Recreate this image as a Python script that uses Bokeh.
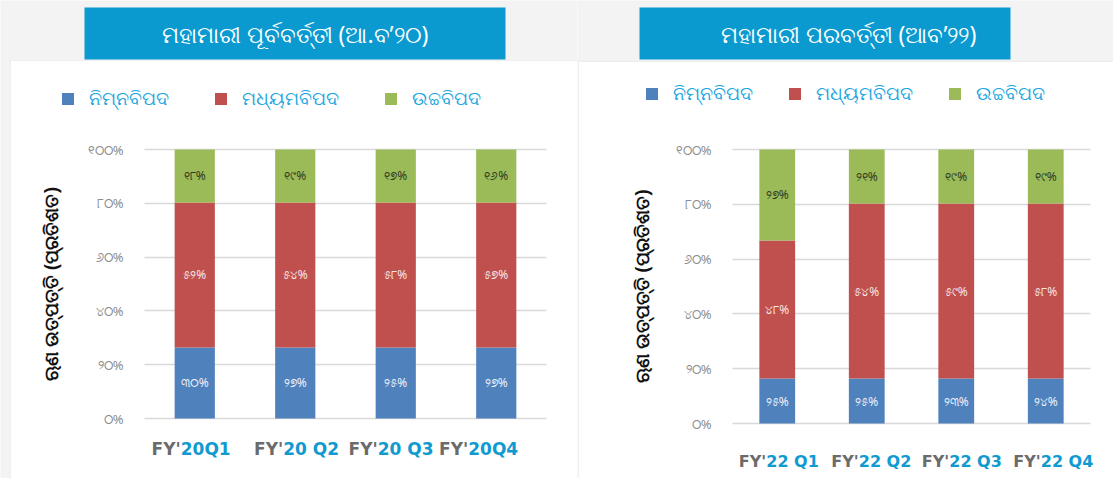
from bokeh.plotting import figure
from bokeh.models import (Range1d, FixedTicker, Label, Legend, LegendItem,
                          ColumnDataSource, LinearAxis, Grid, BoxAnnotation)
from bokeh.layouts import row
from bokeh.embed import file_html
from bokeh.resources import INLINE
from bokeh.core.properties import value

# ---------------- data ----------------
titles = ["ମହାମାରୀ ପୂର୍ବବର୍ତ୍ତୀ (ଆ.ବ’୨୦)", "ମହାମାରୀ ପରବର୍ତ୍ତୀ (ଆବ’୨୨)"]
series_names = ["ନିମ୍ନବିପଦ", "ମଧ୍ୟମବିପଦ", "ଉଚ୍ଚବିପଦ"]
y_title = "ଋଣ ଉତ୍ପତ୍ତି (ପ୍ରତିଶତ)"
y_ticks = [0, 20, 40, 60, 80, 100]

pre_quarters = ["FY'20Q1", "FY'20 Q2", "FY'20 Q3", "FY'20Q4"]
post_quarters = ["FY'22 Q1", "FY'22 Q2", "FY'22 Q3", "FY'22 Q4"]

# bar heights as drawn (percent of the stacked column)
pre_low = [26.4, 26.4, 26.4, 26.4]
pre_mid = [53.9, 53.9, 53.9, 53.9]
pre_high = [19.7, 19.7, 19.7, 19.7]
post_low = [16.4, 16.4, 16.4, 16.4]
post_mid = [50.4, 63.9, 63.9, 63.9]
post_high = [33.2, 19.7, 19.7, 19.7]

# printed data labels (percent)
pre_low_lbl = [30, 27, 25, 27]
pre_mid_lbl = [52, 54, 58, 57]
pre_high_lbl = [18, 19, 17, 16]
post_low_lbl = [25, 25, 23, 24]
post_mid_lbl = [48, 54, 59, 58]
post_high_lbl = [27, 21, 19, 19]

# ---------------- style ----------------
COLORS = ["#4F81BD", "#C0504D", "#9BBB59"]
LBL_COLORS = ["#eef2fa", "#f6e6e6", "#2f3a22"]
TITLE_BG = "#0A9ACF"
PAGE_BG = "#f3f3f3"
LEGEND_TXT = "#1BA6E0"
ODIA_FONT = "Noto Sans"
ODIA_DIGITS = "୦୧୨୩୪୫୬୭୮୯"
H = 478


def odia_num(n):
    return "".join(ODIA_DIGITS[int(c)] for c in str(n))


def panel(quarters, heights, labels, title, g):
    """g: layout geometry in this panel's pixel space."""
    n = len(quarters)
    W = g["width"]
    unit = (g["frame_r"] - g["frame_l"]) / n          # px per category
    k = (g["y0"] - g["y100"]) / 100.0                  # px per percent
    xr = Range1d(-g["frame_l"] / unit, (W - g["frame_l"]) / unit)
    yr = Range1d(-(H - g["y0"]) / k, 100 + g["y100"] / k)

    def X(px):
        return xr.start + px / unit

    def Y(py):
        return yr.end - py / k

    p = figure(width=W, height=H, x_range=xr, y_range=yr, x_axis_type=None,
               y_axis_type=None, toolbar_location=None, output_backend="svg",
               min_border=0, min_border_left=0, min_border_right=0,
               min_border_top=0, min_border_bottom=0, outline_line_color=None,
               background_fill_color=PAGE_BG, border_fill_color=PAGE_BG)

    # white panel card and blue title banner
    bx = g["card"]
    p.add_layout(BoxAnnotation(left=X(bx[0]), right=X(bx[1]), top=Y(bx[2]), bottom=Y(bx[3]),
                               fill_color="white", fill_alpha=1, line_color="#d4d4d4",
                               line_width=1, level="image", editable=False))
    tb = g["banner"]
    p.add_layout(BoxAnnotation(left=X(tb[0]), right=X(tb[1]), top=Y(tb[2]), bottom=Y(tb[3]),
                               fill_color=TITLE_BG, fill_alpha=1, line_color=None,
                               level="image", editable=False))
    p.add_layout(Label(x=X(g["title_x"]), y=Y((tb[2] + tb[3]) / 2), text=title,
                       text_align="center", text_baseline="middle", text_color="white",
                       text_font=ODIA_FONT, text_font_size="23px"))

    # gridlines
    grid = Grid(dimension=1, ticker=FixedTicker(ticks=y_ticks), grid_line_color="#d9d9d9",
                grid_line_width=1.5)
    if "cross_bounds" in Grid.properties():
        grid.cross_bounds = (0, n)
        p.add_layout(grid)
    else:
        p.segment(x0=[0] * len(y_ticks), x1=[n] * len(y_ticks), y0=y_ticks, y1=y_ticks,
                  line_color="#d9d9d9", line_width=1.5, level="underlay")

    # stacked bars (category i centred at i + 0.5)
    xs = [i + 0.5 for i in range(n)]
    low, mid, high = heights
    src = ColumnDataSource(dict(x=xs, low=low, mid=mid, high=high))
    rs = p.vbar_stack(["low", "mid", "high"], x="x", width=0.4, source=src,
                      color=COLORS, line_color=None)

    # data labels in each segment
    bases = [0.0] * n
    for seg, lbl, col in zip(heights, labels, LBL_COLORS):
        yc = [b + h / 2 for b, h in zip(bases, seg)]
        bases = [b + h for b, h in zip(bases, seg)]
        s = ColumnDataSource(dict(x=xs, y=yc, t=[odia_num(v) + "%" for v in lbl]))
        p.text(x="x", y="y", text="t", source=s, text_font=value(ODIA_FONT),
               text_font_size="12px", text_align="center", text_baseline="middle",
               text_color=col)

    # y axis fixed at the left edge of the plotting area
    ax = LinearAxis(fixed_location=0, ticker=FixedTicker(ticks=y_ticks), bounds=(0, 100))
    ax.major_label_overrides = {t: odia_num(t) + "%" for t in y_ticks}
    ax.major_label_text_font = ODIA_FONT
    ax.major_label_text_font_size = "13px"
    ax.major_label_text_color = "#8c8c8c"
    ax.major_label_standoff = g["tick_standoff"]
    ax.axis_line_color = None
    ax.major_tick_line_color = None
    ax.minor_tick_line_color = None
    ax.axis_label = y_title
    ax.axis_label_text_font = ODIA_FONT
    ax.axis_label_text_font_size = "19px"
    ax.axis_label_text_font_style = "bold"
    ax.axis_label_text_color = "#111111"
    ax.axis_label_standoff = g["label_standoff"]
    p.add_layout(ax, "left")

    # category labels: grey "FY'" + blue remainder
    for x, q, off in zip(xs, quarters, g["split"]):
        for txt, align, colr in (("FY'", "right", "#6b6b6b"), (q[3:], "left", "#109AD0")):
            p.add_layout(Label(x=x, y=Y(g["xlab_y"]), x_offset=off, text=txt,
                               text_align=align, text_baseline="middle", text_color=colr,
                               text_font="DejaVu Sans", text_font_style="bold",
                               text_font_size=g["xlab_size"]))

    legend = Legend(items=[LegendItem(label=nm, renderers=[r]) for nm, r in zip(series_names, rs)],
                    location=(g["leg_x"], H - g["leg_bottom"]), orientation="horizontal",
                    background_fill_alpha=0, border_line_color=None,
                    padding=0, margin=0, spacing=g["leg_spacing"], glyph_width=15,
                    glyph_height=15, label_standoff=14, label_text_font=ODIA_FONT,
                    label_text_font_size="19px", label_text_color=LEGEND_TXT)
    p.add_layout(legend)
    return p


geo_left = dict(width=577, frame_l=144, frame_r=546, y100=149, y0=418,
                card=(10, 577, 60, 480), banner=(84, 505, 7, 59), title_x=294.5,
                tick_standoff=15, label_standoff=21, xlab_y=448,
                split=(-14, -12, -18, -28), xlab_size="17px",
                leg_x=60, leg_bottom=111, leg_spacing=44)
geo_right = dict(width=536, frame_l=155, frame_r=513, y100=149, y0=423,
                 card=(1, 540, 61, 480), banner=(62, 433, 7, 59), title_x=271,
                 tick_standoff=15, label_standoff=18, xlab_y=461,
                 split=(-11, -8, -7, -5), xlab_size="16px",
                 leg_x=67, leg_bottom=106, leg_spacing=34)

p1 = panel(pre_quarters, (pre_low, pre_mid, pre_high),
           (pre_low_lbl, pre_mid_lbl, pre_high_lbl), titles[0], geo_left)
p2 = panel(post_quarters, (post_low, post_mid, post_high),
           (post_low_lbl, post_mid_lbl, post_high_lbl), titles[1], geo_right)

layout = row(p1, p2, spacing=0)
open("out.html", "w").write(file_html(layout, INLINE))
